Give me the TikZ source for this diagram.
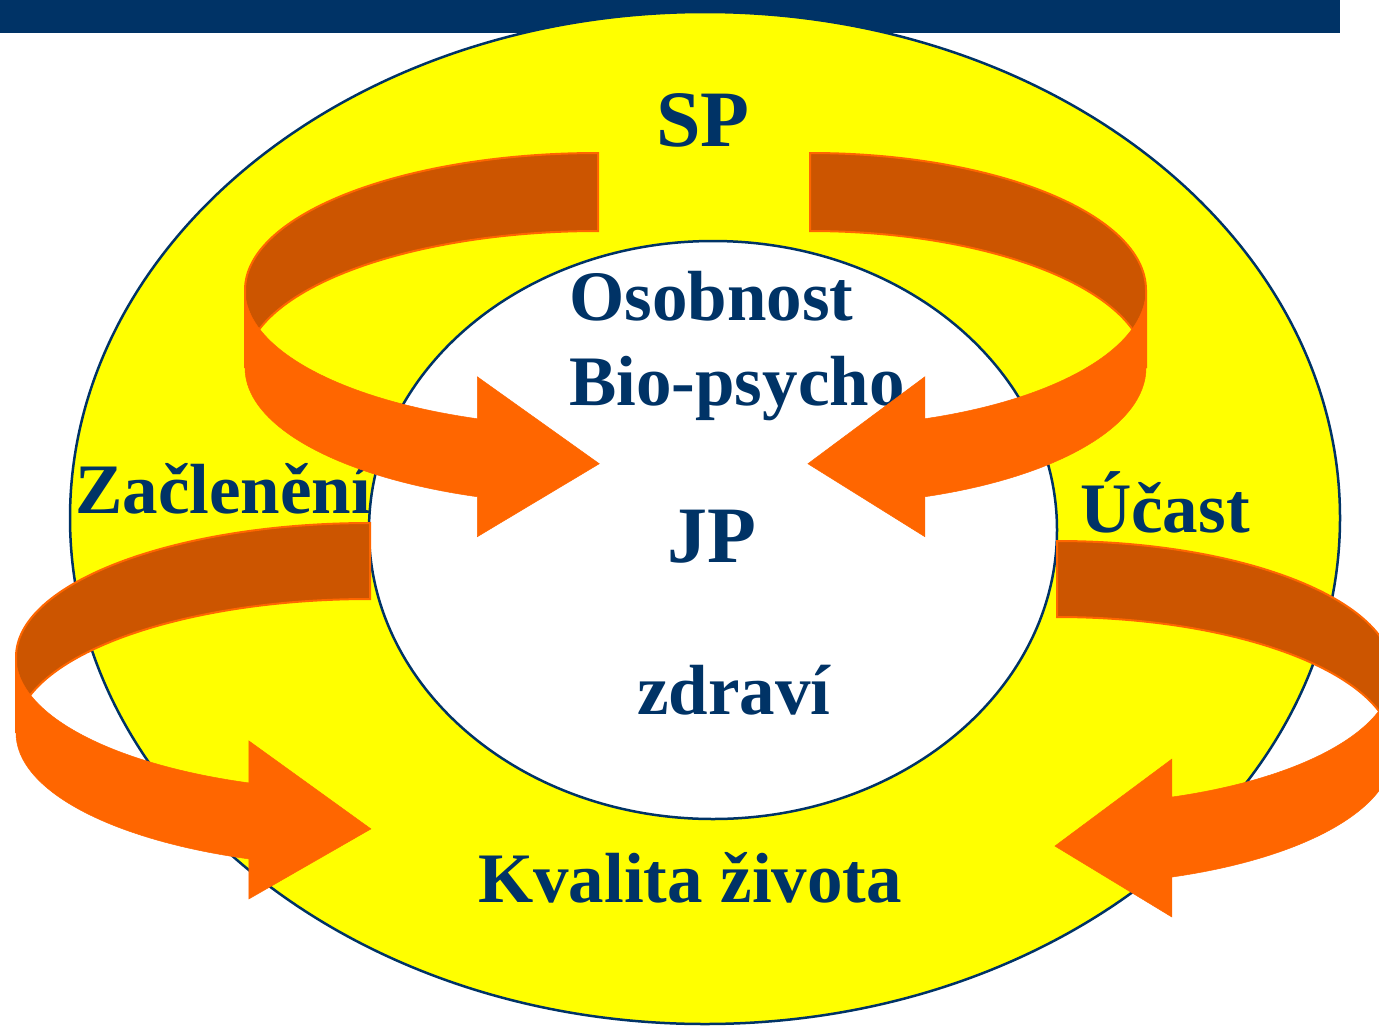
\documentclass[tikz,border=0pt]{standalone}
\usepackage{fontspec}
\setmainfont{Liberation Serif}
\usepackage{tikz}

\definecolor{navy}{RGB}{0,51,102}
\definecolor{backor}{RGB}{204,85,0}
\definecolor{frontor}{RGB}{255,102,0}
\definecolor{ringyellow}{RGB}{255,255,0}

\begin{document}
\begin{tikzpicture}[x=1pt, y=1pt,
    ribbonback/.style={fill=backor, draw=frontor, line width=2pt},
    ribbonfront/.style={fill=frontor, draw=frontor, line width=0.5pt},
    txt/.style={text=navy, inner sep=0pt, font=\bfseries\fontsize{71}{80}\selectfont},
    bigtxt/.style={txt, font=\bfseries\fontsize{80}{90}\selectfont}]

    \clip (0,0) rectangle (1379,-1031);

    % bar on top
    \fill [navy] (0,0) rectangle (1340,-33);

    % outer ring and inner field
    \draw [navy, line width=2.5pt, fill=ringyellow] (705,-518) ellipse [x radius=635, y radius=506];
    \draw [navy, line width=2.5pt, fill=white] (713,-530) ellipse [x radius=344, y radius=289];

    % texts
    \node [bigtxt, anchor=base] (sp) at (703,-146) {SP};
    \node [txt, anchor=base west] (osobnost) at (569,-320) {Osobnost};
    \node [txt, anchor=base west] (bio) at (569,-405) {Bio-psycho};
    \node [bigtxt, anchor=base] (jp) at (712,-562) {JP};
    \node [txt, anchor=base] (zdravi) at (734,-714) {zdraví};
    \node [txt, anchor=base] (kvalita) at (690,-902) {Kvalita života};
    \node [txt, anchor=base west] (zacleneni) at (75,-513) {Začlenění};
    \node [txt, anchor=base west] (ucast) at (1080,-532) {Účast};

    % upper left arrow
    \draw [ribbonback] (598,-153) arc [start angle=90, end angle=180, x radius=353, y radius=137]
        -- ++(0,-78) arc [start angle=180, end angle=90, x radius=353, y radius=137] -- cycle;
    \draw [ribbonfront] (245,-290) arc [start angle=180, end angle=250, x radius=353, y radius=137]
        -- ++(0,42) -- ++(122,-87) -- ++(-122,-73) -- ++(0,40)
        arc [start angle=250, end angle=180, x radius=353, y radius=137] -- cycle;

    % upper right arrow
    \draw [ribbonback] (810,-153) arc [start angle=90, end angle=0, x radius=336, y radius=137]
        -- ++(0,-78) arc [start angle=0, end angle=90, x radius=336, y radius=137] -- cycle;
    \draw [ribbonfront] (1146,-290) arc [start angle=0, end angle=-70, x radius=336, y radius=137]
        -- ++(0,42) -- ++(-117,-87) -- ++(117,-73) -- ++(0,40)
        arc [start angle=-70, end angle=0, x radius=336, y radius=137] -- cycle;

    % lower left arrow
    \draw [ribbonback] (370,-523) arc [start angle=90, end angle=180, x radius=354, y radius=134]
        -- ++(0,-76) arc [start angle=180, end angle=90, x radius=354, y radius=134] -- cycle;
    \draw [ribbonfront] (16,-657) arc [start angle=180, end angle=250, x radius=354, y radius=134]
        -- ++(0,42) -- ++(122,-88) -- ++(-122,-70) -- ++(0,40)
        arc [start angle=250, end angle=180, x radius=354, y radius=134] -- cycle;

    % lower right arrow
    \draw [ribbonback] (1057,-541) arc [start angle=90, end angle=0, x radius=336, y radius=132]
        -- ++(0,-76) arc [start angle=0, end angle=90, x radius=336, y radius=132] -- cycle;
    \draw [ribbonfront] (1393,-673) arc [start angle=0, end angle=-70, x radius=336, y radius=132]
        -- ++(0,38) -- ++(-117,-87) -- ++(117,-71) -- ++(0,40)
        arc [start angle=-70, end angle=0, x radius=336, y radius=132] -- cycle;
\end{tikzpicture}
\end{document}
